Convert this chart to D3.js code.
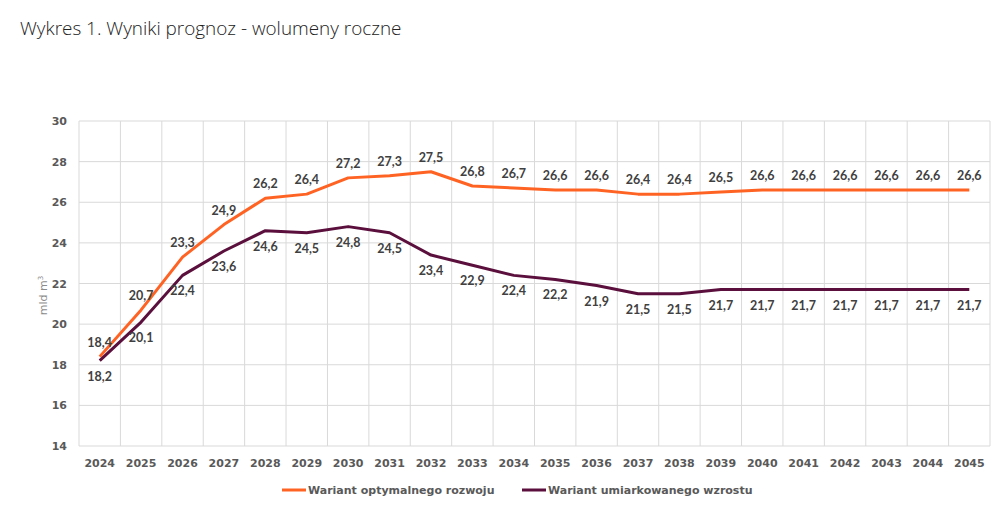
<!DOCTYPE html>
<html>
<head>
<meta charset="utf-8">
<script src="https://cdn.jsdelivr.net/npm/d3@7"></script>
<style>
  body { margin: 0; background: #fff; }
  svg text { font-family: "DejaVu Sans", sans-serif; }
</style>
</head>
<body>
<svg id="chart" width="994" height="509"></svg>
<script>
// dane
const years = ["2024","2025","2026","2027","2028","2029","2030","2031","2032","2033","2034",
    "2035","2036","2037","2038","2039","2040","2041","2042","2043","2044","2045"];
const optymalny = [18.4,20.7,23.3,24.9,26.2,26.4,27.2,27.3,27.5,26.8,26.7,26.6,26.6,26.4,26.4,26.5,26.6,26.6,26.6,26.6,26.6,26.6];
const umiarkowany = [18.2,20.1,22.4,23.6,24.6,24.5,24.8,24.5,23.4,22.9,22.4,22.2,21.9,21.5,21.5,21.7,21.7,21.7,21.7,21.7,21.7,21.7];
const yTicks = [14,16,18,20,22,24,26,28,30];
const seriesNames = ["Wariant optymalnego rozwoju", "Wariant umiarkowanego wzrostu"];
const colors = ["#ff6324", "#5a0f3c"];

const svg = d3.select("#chart");
const margin = { left: 79, right: 4, top: 121, bottom: 63 };
const width = 994, height = 509;

const x = d3.scaleBand().domain(years).range([margin.left, width - margin.right]);
const y = d3.scaleLinear().domain([14, 30]).range([height - margin.bottom, margin.top]);
const cx = d => x(d) + x.bandwidth() / 2;

// tytul
svg.append("text")
    .attr("x", 20).attr("y", 35)
    .style("font-family", "'Open Sans', sans-serif")
    .style("font-weight", 300)
    .style("font-size", "18.9px")
    .attr("fill", "#222")
    .text("Wykres 1. Wyniki prognoz - wolumeny roczne");

// siatka
const grid = svg.append("g");
grid.selectAll(".hgrid").data(yTicks).enter().append("line")
    .attr("x1", margin.left).attr("x2", width - margin.right)
    .attr("y1", d => y(d)).attr("y2", d => y(d))
    .attr("stroke", "#d9d9d9").attr("stroke-width", 1);
grid.selectAll(".vgrid").data(years.concat(["end"])).enter().append("line")
    .attr("x1", (d, i) => margin.left + i * x.bandwidth())
    .attr("x2", (d, i) => margin.left + i * x.bandwidth())
    .attr("y1", y(30)).attr("y2", y(14))
    .attr("stroke", "#d9d9d9").attr("stroke-width", 1);

// osie
const yAxis = svg.append("g")
    .attr("transform", `translate(${margin.left},0)`)
    .call(d3.axisLeft(y).tickValues(yTicks).tickSize(0).tickPadding(12));
yAxis.select(".domain").remove();
yAxis.selectAll("text").style("font-size", "11px").style("font-weight", "bold").attr("fill", "#595959");

const xAxis = svg.append("g")
    .attr("transform", `translate(0,${y(14)})`)
    .call(d3.axisBottom(x).tickSize(0).tickPadding(13));
xAxis.select(".domain").remove();
xAxis.selectAll("text").style("font-size", "11px").style("font-weight", "bold").attr("fill", "#595959");

// tytul osi Y
const yTitle = svg.append("text")
    .attr("transform", `translate(47,${(y(14) + y(30)) / 2 + 12}) rotate(-90)`)
    .attr("text-anchor", "middle")
    .style("font-size", "11px")
    .attr("fill", "#8c8c8c");
yTitle.append("tspan").text("mld m");
yTitle.append("tspan").attr("dy", -4).style("font-size", "7px").text("3");

// linie
const line = d3.line().x((d, i) => cx(years[i])).y(d => y(d));
[optymalny, umiarkowany].forEach((data, s) => {
    svg.append("path")
        .datum(data)
        .attr("fill", "none")
        .attr("stroke", colors[s])
        .attr("stroke-width", 3)
        .attr("stroke-linejoin", "round")
        .attr("d", line);
});

// etykiety danych
const fmt = v => d3.format(".1f")(v).replace(".", ",");
const labelStyle = sel => sel
    .attr("text-anchor", "middle")
    .style("font-family", "Lato, sans-serif")
    .style("font-size", "12.5px").style("font-weight", "bold")
    .attr("fill", "#404040")
    .text(fmt);
svg.append("g").selectAll("text").data(optymalny).enter().append("text")
    .attr("x", (d, i) => cx(years[i]))
    .attr("y", d => y(d) - 10)
    .call(labelStyle);
svg.append("g").selectAll("text").data(umiarkowany).enter().append("text")
    .attr("x", (d, i) => cx(years[i]))
    .attr("y", d => y(d) + 20)
    .call(labelStyle);

// legenda
const legendX = [282, 522];
seriesNames.forEach((name, s) => {
    const g = svg.append("g").attr("transform", `translate(${legendX[s]},490)`);
    g.append("line").attr("x1", 0).attr("x2", 24).attr("y1", 0).attr("y2", 0)
        .attr("stroke", colors[s]).attr("stroke-width", 3);
    g.append("text").attr("x", 26).attr("y", 4)
        .style("font-size", "11px").style("font-weight", "bold")
        .attr("fill", "#595959")
        .text(name);
});
</script>
</body>
</html>
